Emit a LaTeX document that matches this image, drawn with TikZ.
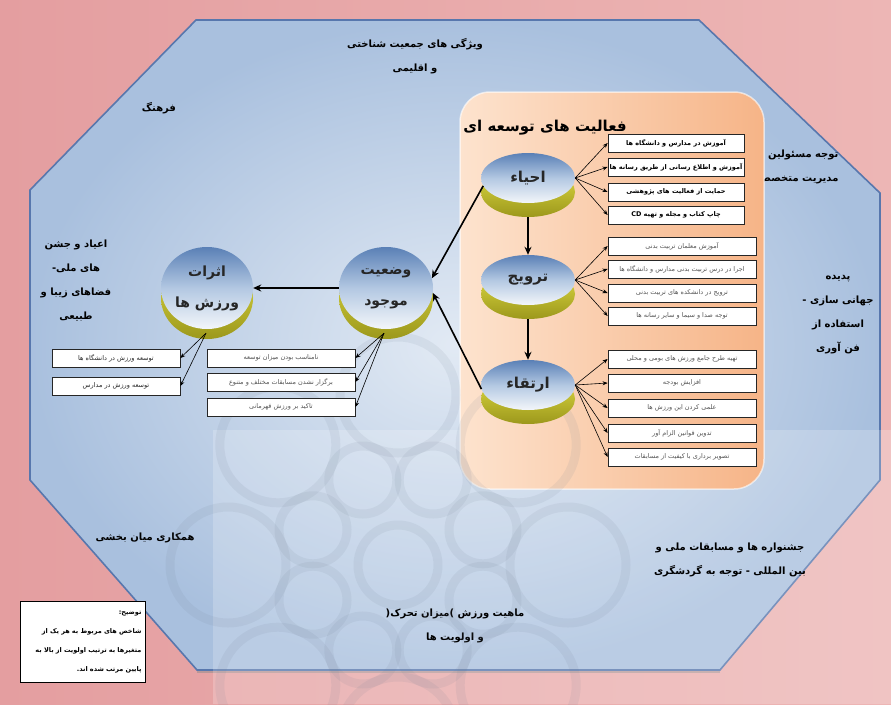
\documentclass[tikz,border=0pt]{standalone}
\usepackage{fontspec}
\newfontfamily\arabicfont[Script=Arabic]{DejaVu Sans}
\TeXXeTstate=1
\usetikzlibrary{calc,shapes.geometric,arrows.meta,shadows}

\definecolor{pinkdk}{HTML}{E49EA0}
\definecolor{pinklt}{HTML}{EDB6B5}
\definecolor{octblue}{HTML}{A9C0DE}
\definecolor{octlt}{HTML}{E2EAF4}
\definecolor{octedge}{HTML}{5877AD}
\definecolor{peach}{HTML}{FDE3CE}
\definecolor{orng}{HTML}{F6B487}
\definecolor{discblue}{HTML}{5A80B6}
\definecolor{discmid}{HTML}{B3C8E2}
\definecolor{discwhite}{HTML}{F3F6FA}
\definecolor{discyel}{HTML}{E2DE44}
\definecolor{discolive}{HTML}{9C981C}
\definecolor{boxgray}{HTML}{555555}
\definecolor{wmgray}{HTML}{6F7D90}

\newcommand{\rl}[1]{\beginR #1\endR}

\begin{document}
\begin{tikzpicture}[x=1pt,y=-1pt,
  disc/.style={ellipse,minimum width=94pt,minimum height=50pt,inner sep=0pt,
    top color=discblue,bottom color=discwhite,middle color=discmid,
    font=\arabicfont\bfseries\fontsize{15}{17}\selectfont,text=black!85},
  ball/.style={disc,minimum height=82pt,align=center,
    font=\arabicfont\bfseries\fontsize{14}{31}\selectfont},
  base/.style={top color=discyel,bottom color=discolive},
  itembox/.style={draw=black!85,line width=.8pt,fill=white,minimum height=18pt,
    inner sep=1pt,font=\arabicfont\fontsize{6.5}{8}\selectfont,text=boxgray,
    drop shadow={shadow xshift=1pt,shadow yshift=-1pt,opacity=.35}},
  label/.style={font=\arabicfont\bfseries\fontsize{10}{24}\selectfont,align=center},
  bigarrow/.style={-{Stealth[length=8pt,width=7pt]},line width=1.6pt},
  fanarrow/.style={-{Stealth[length=5pt,width=4pt]},line width=.6pt},
  wmark/.style={draw=wmgray,opacity=.10,line width=9pt}
]
\useasboundingbox (0,0) rectangle (891,704);

% background and octagon
\shade[left color=pinkdk,right color=pinklt] (0,0) rectangle (891,704);
\shade[inner color=octlt,outer color=octblue]
  (196,20) -- (699,20) -- (880,193) -- (880,480) -- (720,670) -- (197,670)
  -- (30,480) -- (30,190) -- cycle;
\draw[octedge,line width=1.6pt]
  (196,20) -- (699,20) -- (880,193) -- (880,480) -- (720,670) -- (197,670)
  -- (30,480) -- (30,190) -- cycle;
\draw[black!45,opacity=.5,line width=1.5pt] (197,672) -- (720,672);
\fill[white,opacity=.2] (213,430) rectangle (891,704);

% factors round the frame
\node[label] (climate) at (415,56) {\rl{ویژگی های جمعیت شناختی}\\\rl{و اقلیمی}};
\node[label] (culture) at (159,108) {\rl{فرهنگ}};
\node[label,anchor=east,align=right] (officials) at (842,167)
  {\rl{توجه مسئولین و}\\\rl{مدیریت متخصص}};
\node[label] (festivals) at (76,281)
  {\rl{اعیاد و جشن}\\\rl{های ملی\hbox{-}}\\\rl{فضاهای زیبا و}\\\rl{طبیعی}};
\node[label] (global) at (838,315)
  {\rl{پدیده}\\\rl{جهانی سازی -}\\\rl{استفاده از}\\\rl{فن آوری}};
\node[label] (cooperation) at (145,538) {\rl{همکاری میان بخشی}};
\node[label] (tourism) at (730,560)
  {\rl{جشنواره ها و مسابقات ملی و}\\\rl{بین المللی - توجه به گردشگری}};
\node[label] (nature) at (455,626)
  {\rl{ماهیت ورزش \hbox{)}میزان تحرک\hbox{(}}\\\rl{و اولویت ها}};

% developmental activities panel
\shade[rounded corners=30pt,left color=peach,right color=orng] (460,92) rectangle (764,489);
\draw[white,opacity=.6,line width=1.5pt,rounded corners=30pt] (460,92) rectangle (764,489);

% watermark
\coordinate (wc) at (398,565);
\foreach \a in {0,45,...,315}{
  \draw[wmark] ($(wc)+(\a:170)$) circle (58pt);
  \draw[wmark] ($(wc)+(\a+22.5:92)$) circle (34pt);
}
\draw[wmark] (wc) circle (40pt);

\node[font=\arabicfont\bfseries\fontsize{15}{17}\selectfont] (title) at (545,128)
  {\rl{فعالیت های توسعه ای}};

% discs
\foreach \n/\y in {ehya/178,tarvij/280,ertegha/385}{
  \shade[base] (528,\y+14) ellipse [x radius=47pt,y radius=25pt];
}
\shade[base] (386,298) ellipse [x radius=47pt,y radius=41pt];
\shade[base] (207,298) ellipse [x radius=46pt,y radius=41pt];

\node[disc] (ehya) at (528,178) {\rl{احیاء}};
\node[disc] (tarvij) at (528,280) {\rl{ترویج}};
\node[disc] (ertegha) at (528,385) {\rl{ارتقاء}};
\node[ball] (vaz) at (386,288) {\rl{وضعیت}\\\rl{موجود}};
\node[ball,minimum width=92pt] (asar) at (207,288) {\rl{اثرات}\\\rl{ورزش ها}};

% item boxes
\foreach \y/\t [count=\i] in {143/{آموزش در مدارس و دانشگاه ها},
    167/{آموزش و اطلاع رسانی از طریق رسانه ها},
    192/{حمایت از فعالیت های پژوهشی},
    215/{چاپ کتاب و مجله و تهیه \beginL CD\endL}}
  \node[itembox,minimum width=136pt,text=black,font=\arabicfont\bfseries\fontsize{6.5}{8}\selectfont]
    (ehya\i) at (676,\y) {\rl{\t}};
\foreach \y/\t [count=\i] in {246/{آموزش معلمان تربیت بدنی},
    269/{اجرا در درس تربیت بدنی مدارس و دانشگاه ها},
    293/{ترویج در دانشکده های تربیت بدنی},
    316/{توجه صدا و سیما و سایر رسانه ها}}
  \node[itembox,minimum width=148pt] (tarvij\i) at (682,\y) {\rl{\t}};
\foreach \y/\t [count=\i] in {359/{تهیه طرح جامع ورزش های بومی و محلی},
    383/{افزایش بودجه},
    408/{علمی کردن این ورزش ها},
    433/{تدوین قوانین الزام آور},
    457/{تصویر برداری با کیفیت از مسابقات}}
  \node[itembox,minimum width=148pt] (ertegha\i) at (682,\y) {\rl{\t}};
\foreach \y/\t [count=\i] in {358/{نامناسب بودن میزان توسعه},
    382/{برگزار نشدن مسابقات مختلف و متنوع},
    407/{تاکید بر ورزش قهرمانی}}
  \node[itembox,minimum width=148pt] (vaz\i) at (281,\y) {\rl{\t}};
\foreach \y/\t [count=\i] in {358/{توسعه ورزش در دانشگاه ها},
    386/{توسعه ورزش در مدارس}}
  \node[itembox,minimum width=128pt,text=black!85] (asar\i) at (116,\y) {\rl{\t}};

% connectors
\foreach \i in {1,...,4}{
  \draw[fanarrow] (ehya.east) -- (ehya\i.west);
  \draw[fanarrow] (tarvij.east) -- (tarvij\i.west);
}
\foreach \i in {1,...,5}
  \draw[fanarrow] (ertegha.east) -- (ertegha\i.west);
\coordinate (vazfoot) at ($(vaz.south)+(-2,4)$);
\coordinate (asarfoot) at ($(asar.south)+(-1,4)$);
\foreach \i in {1,...,3}
  \draw[fanarrow] (vazfoot) -- (vaz\i.east);
\foreach \i in {1,2}
  \draw[fanarrow] (asarfoot) -- (asar\i.east);

\draw[bigarrow,shorten <=14pt] (ehya) -- (tarvij);
\draw[bigarrow,shorten <=14pt] (tarvij) -- (ertegha);
\draw[bigarrow] (ehya.190) -- (vaz.12);
\draw[bigarrow] (ertegha.185) -- (vaz.-6);
\draw[bigarrow] (vaz.west) -- (asar.east);

% note
\node[draw=black,line width=1.5pt,fill=white,align=right,text width=117pt,inner sep=4pt,
  minimum height=81pt,font=\arabicfont\bfseries\fontsize{6.5}{19}\selectfont] (note) at (83,642)
  {\rl{توضیح\hbox{:}}\\\rl{شاخص های مربوط به هر یک از}\\\rl{متغیرها به ترتیب اولویت از بالا به}\\\rl{پایین مرتب شده اند\hbox{.}}};
\end{tikzpicture}
\end{document}
